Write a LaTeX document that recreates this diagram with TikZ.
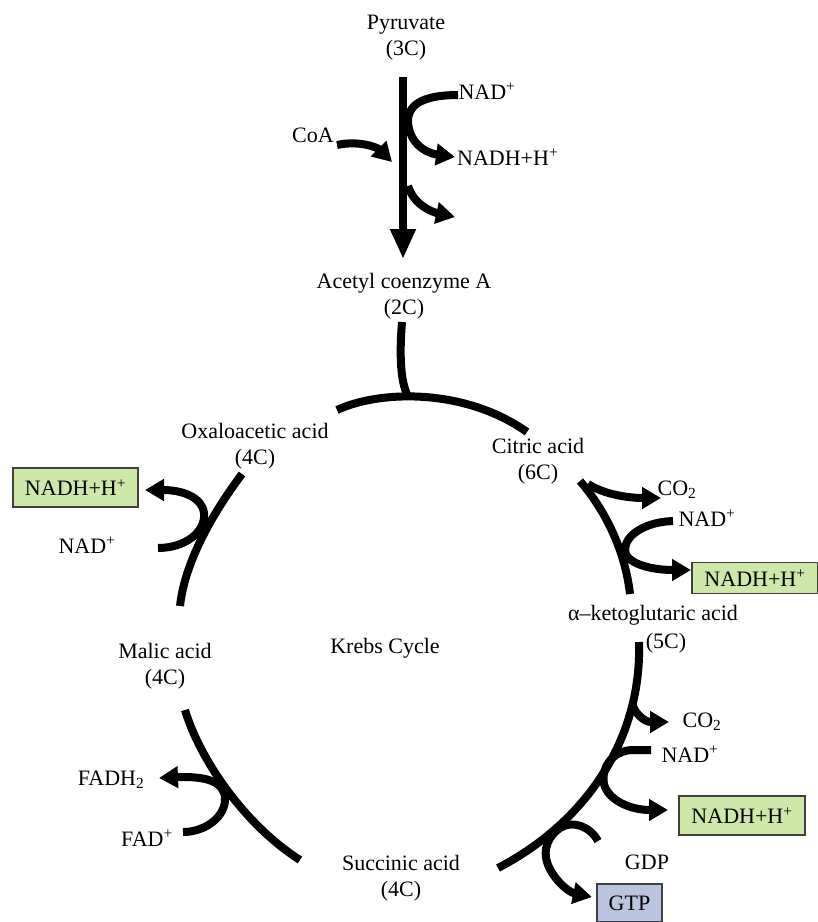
\documentclass[tikz,border=0pt]{standalone}
\usepackage{fontspec}
\setmainfont{Liberation Serif}
\usetikzlibrary{arrows.meta}
\definecolor{boxgreen}{RGB}{206,232,170}
\definecolor{boxblue}{RGB}{186,196,222}
\begin{document}
\begin{tikzpicture}[x=1pt,y=-1pt,
  lbl/.style={font=\fontsize{22}{26}\selectfont, align=center, inner sep=0pt},
  flow/.style={line width=8pt, line cap=butt},
  arr/.style={flow, -{Triangle[width=21pt,length=19pt]}},
  bigarr/.style={flow, -{Triangle[width=24pt,length=30pt]}},
  greenbox/.style={draw=black!75, line width=1.3pt, fill=boxgreen, font=\fontsize{22}{26}\selectfont, inner sep=0pt},
  bluebox/.style={draw=black!75, line width=1.3pt, fill=boxblue, font=\fontsize{22}{26}\selectfont, inner sep=0pt}]
\useasboundingbox (0,0) rectangle (818,922);

% ---------- labels ----------
\node[lbl] (pyr) at (406,38) {Pyruvate\\(3C)};
\node[lbl] (nadT) at (487,91) {NAD\textsuperscript{+}};
\node[lbl] (coa) at (313,135) {CoA};
\node[lbl, anchor=west] (nadhT) at (457,157) {NADH+H\textsuperscript{+}};
\node[lbl] (acetyl) at (404,296) {Acetyl coenzyme A\\(2C)};
\node[lbl] (oxa) at (255,446) {Oxaloacetic acid\\(4C)};
\node[lbl] (cit) at (538,461) {Citric acid\\(6C)};
\node[lbl] (co2A) at (677,490) {CO\textsubscript{2}};
\node[lbl] (nadA) at (707,518) {NAD\textsuperscript{+}};
\node[greenbox, minimum width=126pt, minimum height=31pt] (nadhA) at (755,578) {NADH+H\textsuperscript{+}};
\node[lbl] (akg) at (653,615) {α–ketoglutaric acid};
\node[lbl] (akgC) at (666,643) {(5C)};
\node[lbl] (krebs) at (385,648) {Krebs Cycle};
\node[lbl] (mal) at (165,666) {Malic acid\\(4C)};
\node[lbl] (co2B) at (702,722) {CO\textsubscript{2}};
\node[lbl] (nadB) at (690,754) {NAD\textsuperscript{+}};
\node[greenbox, minimum width=126pt, minimum height=39pt] (nadhB) at (742,815.5) {NADH+H\textsuperscript{+}};
\node[lbl] (gdp) at (647,862) {GDP};
\node[bluebox, minimum width=65pt, minimum height=38pt] (gtp) at (629.5,903) {GTP};
\node[lbl] (succ) at (401,878) {Succinic acid\\(4C)};
\node[lbl] (fadh) at (111,780) {FADH\textsubscript{2}};
\node[lbl] (fad) at (147,838) {FAD\textsuperscript{+}};
\node[lbl] (nadL) at (87,545) {NAD\textsuperscript{+}};
\node[greenbox, minimum width=125pt, minimum height=39pt] (nadhL) at (75.5,487.5) {NADH+H\textsuperscript{+}};

% ---------- coordinates ----------
\coordinate (mTop) at (403,77);
\coordinate (mTip) at (403,259);
\coordinate (nadTs) at (458,95);
\coordinate (nadTe) at (455,157);
\coordinate (coaS) at (337,145);
\coordinate (coaE) at (392,162);
\coordinate (thS) at (408,186);
\coordinate (thE) at (455,217);
\coordinate (vS) at (402,322);
\coordinate (vE) at (409,398);
\coordinate (arcL) at (337,410);
\coordinate (arcR) at (527,432);
\coordinate (oxS) at (242,474);
\coordinate (oxE) at (180,606);
\coordinate (nadLs) at (158,548);
\coordinate (nadLe) at (145,490);
\coordinate (malS) at (185,710);
\coordinate (malE) at (300,860);
\coordinate (fadS) at (183,832);
\coordinate (fadE) at (159,778);
\coordinate (citS) at (580,481);
\coordinate (citE) at (630,594);
\coordinate (co2As) at (588,484);
\coordinate (co2Ae) at (661,498);
\coordinate (nadAs) at (673,521);
\coordinate (nadAe) at (691,570);
\coordinate (akS) at (639,642);
\coordinate (akE) at (498,868);
\coordinate (co2Bs) at (632,704);
\coordinate (co2Be) at (669,722);
\coordinate (nadBs) at (651,750);
\coordinate (nadBe) at (668,810);
\coordinate (gdpS) at (598,841);
\coordinate (gtpE) at (592,897);

% ---------- pyruvate -> acetyl CoA ----------
\draw[bigarr] (mTop) -- (mTip);
\draw[arr] (nadTs) .. controls (428,95) and (409,102) .. (408,120)
  .. controls (408,142) and (425,153) .. (nadTe);
\draw[arr] (coaS) .. controls (360,140) and (378,148) .. (coaE);
\draw[arr] (thS) .. controls (414,205) and (432,212) .. (thE);

% ---------- cycle ----------
\draw[flow] (vS) .. controls (399,360) and (401,385) .. (vE);
\draw[flow] (arcL) .. controls (380,390) and (465,388) .. (arcR);
\draw[flow] (oxS) .. controls (215,510) and (185,560) .. (oxE);
\draw[arr] (nadLs) .. controls (185,548) and (206,532) .. (204,513)
  .. controls (202,497) and (182,490) .. (nadLe);
\draw[flow] (malS) .. controls (200,760) and (245,825) .. (malE);
\draw[arr] (fadS) .. controls (206,832) and (226,816) .. (225,798)
  .. controls (224,781) and (205,776) .. (fadE);
\draw[flow] (citS) .. controls (605,510) and (625,550) .. (citE);
\draw[arr] (co2As) .. controls (605,495) and (630,498) .. (co2Ae);
\draw[arr] (nadAs) .. controls (645,522) and (625,535) .. (625,550)
  .. controls (625,563) and (650,570) .. (nadAe);
\draw[flow] (akS) .. controls (642,735) and (590,820) .. (akE);
\draw[arr] (co2Bs) .. controls (636,715) and (645,722) .. (co2Be);
\draw[arr] (nadBs) -- (632,750) .. controls (612,751) and (601,768) .. (604,784)
  .. controls (608,800) and (630,810) .. (nadBe);
\draw[arr] (gdpS) .. controls (590,826) and (572,820) .. (560,828)
  .. controls (548,836) and (543,850) .. (547,862)
  .. controls (552,878) and (568,892) .. (gtpE);
\end{tikzpicture}
\end{document}
